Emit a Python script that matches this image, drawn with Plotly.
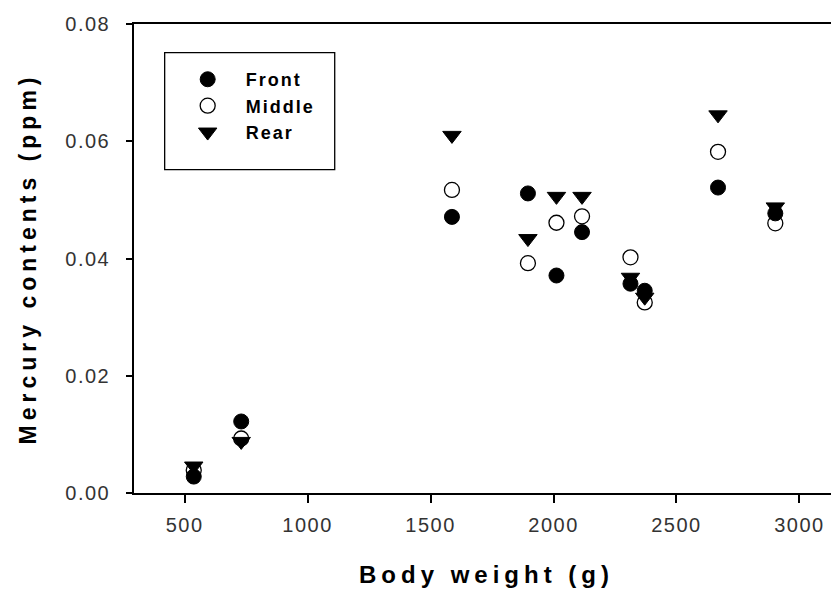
import plotly.graph_objects as go

body_weight = [537, 730, 1587, 1896, 2012, 2116, 2313, 2371, 2669, 2902]
front = [0.0028, 0.0122, 0.0471, 0.0511, 0.0371, 0.0445, 0.0357, 0.0345, 0.0521, 0.0477]
middle = [0.0039, 0.0093, 0.0517, 0.0392, 0.0461, 0.0472, 0.0402, 0.0325, 0.0582, 0.0460]
rear = [0.0046, 0.0088, 0.0610, 0.0434, 0.0506, 0.0506, 0.0368, 0.0334, 0.0645, 0.0488]

x_ticks = [500, 1000, 1500, 2000, 2500, 3000]
y_ticks = [0.00, 0.02, 0.04, 0.06, 0.08]

FONT = "Liberation Sans, Arial, sans-serif"

fig = go.Figure()
fig.add_trace(go.Scatter(x=body_weight, y=front, mode="markers", name="Front",
                         marker=dict(symbol="circle", size=15, color="black",
                                     line=dict(color="black", width=1))))
fig.add_trace(go.Scatter(x=body_weight, y=middle, mode="markers", name="Middle",
                         marker=dict(symbol="circle-open", size=15, color="black",
                                     line=dict(color="black", width=1.3))))
fig.add_trace(go.Scatter(x=body_weight, y=rear, mode="markers", name="Rear",
                         marker=dict(symbol="triangle-down", size=16, color="black",
                                     line=dict(color="black", width=1))))

# legend box (drawn as a rectangle around the native legend)
fig.add_shape(type="rect", xref="paper", yref="paper",
              x0=0.0435, x1=0.2847, y0=0.6893, y1=0.9388,
              line=dict(color="black", width=1.3), fillcolor="rgba(0,0,0,0)", layer="above")

fig.update_layout(
    width=831, height=591,
    margin=dict(l=126, r=0, t=16, b=106),
    paper_bgcolor="white", plot_bgcolor="white",
    font=dict(family=FONT, color="black"),
    showlegend=True,
    legend=dict(x=0.0506, y=0.921, xanchor="left", yanchor="top",
                borderwidth=0, bgcolor="rgba(0,0,0,0)",
                font=dict(size=18, family=FONT, weight="bold"),
                itemwidth=66, tracegroupgap=0),
    xaxis=dict(range=[294, 3161], tickvals=x_ticks, ticktext=[str(v) for v in x_ticks],
               showgrid=False, zeroline=False, showline=True, linecolor="black", linewidth=1.5,
               mirror=True, ticks="outside", ticklen=8, tickcolor="black", tickwidth=1.5,
               tickfont=dict(size=20, color="#333"), ticklabelstandoff=5,
               title=dict(text="Body weight (g)", font=dict(size=24, weight="bold"), standoff=31)),
    yaxis=dict(range=[0, 0.08], tickvals=y_ticks, ticktext=["%.2f" % v for v in y_ticks],
               showgrid=False, zeroline=False, showline=True, linecolor="black", linewidth=1.5,
               mirror=False, ticks="outside", ticklen=6, tickcolor="black", tickwidth=1.5,
               tickfont=dict(size=20, color="#333"), ticklabelstandoff=12,
               title=dict(text="Mercury contents (ppm)", font=dict(size=23, weight="bold"), standoff=28)),
)

post = """
var gd = document.getElementById('{plot_id}');
function spacing() {
  gd.querySelectorAll('.xtitle').forEach(function(e){ e.style.letterSpacing = '5px'; });
  gd.querySelectorAll('.ytitle').forEach(function(e){ e.style.letterSpacing = '5px'; });
  gd.querySelectorAll('.legendtext').forEach(function(e){ e.style.letterSpacing = '2px'; });
  gd.querySelectorAll('.legend [clip-path]').forEach(function(e){ e.removeAttribute('clip-path'); });
  gd.querySelectorAll('.xtick text, .ytick text').forEach(function(e){ e.style.letterSpacing = '1.5px'; });
}
spacing();
gd.on('plotly_afterplot', spacing);
"""

fig.write_html("out.html", post_script=post)
